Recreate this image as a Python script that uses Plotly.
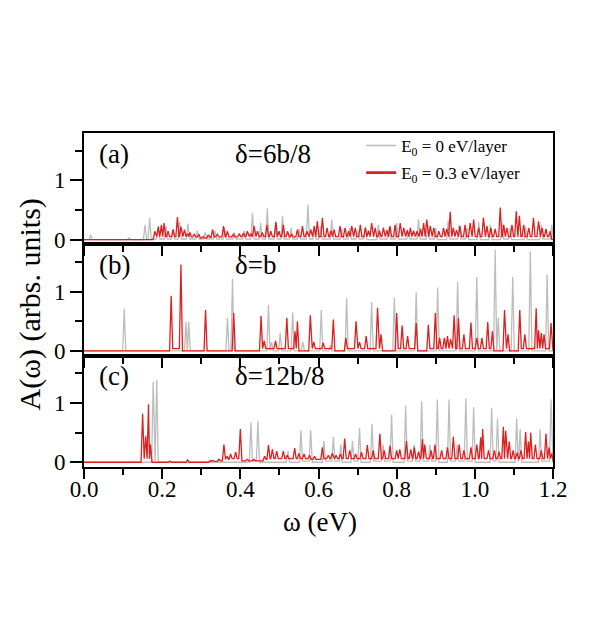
import plotly.graph_objects as go
from plotly.subplots import make_subplots

# ---------------- data (peak positions in eV, peak heights in arbs. units) ----------------
# Panel (a)  delta = 6b/8
a_gray_x = [0.017, 0.115, 0.156, 0.168, 0.19, 0.21, 0.228, 0.245, 0.266, 0.29, 0.31, 0.335, 0.36,
            0.385, 0.41, 0.431, 0.452, 0.469, 0.49, 0.508, 0.53, 0.55, 0.573, 0.59, 0.605, 0.634,
            0.66, 0.68, 0.70, 0.72, 0.753, 0.78, 0.80, 0.83, 0.856, 0.88, 0.90, 0.932, 0.96, 0.98,
            1.01, 1.04, 1.07, 1.09, 1.13, 1.17, 1.197]
a_gray_y = [0.08, 0.03, 0.25, 0.37, 0.20, 0.22, 0.18, 0.30, 0.27, 0.15, 0.12, 0.15, 0.20,
            0.12, 0.15, 0.45, 0.28, 0.53, 0.22, 0.40, 0.20, 0.18, 0.59, 0.20, 0.22, 0.34,
            0.18, 0.20, 0.15, 0.22, 0.25, 0.20, 0.28, 0.12, 0.34, 0.22, 0.20, 0.32, 0.25, 0.20,
            0.30, 0.25, 0.28, 0.20, 0.22, 0.25, 0.25]
a_red_x = [0.181, 0.19, 0.198, 0.205, 0.215, 0.228, 0.239, 0.248, 0.257, 0.265, 0.271, 0.282, 0.294,
           0.305, 0.318, 0.329, 0.341, 0.357, 0.367, 0.382, 0.397, 0.408, 0.418, 0.427, 0.435, 0.444,
           0.456, 0.468, 0.478, 0.491, 0.499, 0.51, 0.521, 0.531, 0.546, 0.559, 0.57, 0.58, 0.589,
           0.597, 0.61, 0.622, 0.632, 0.64, 0.655, 0.668, 0.677, 0.685, 0.694, 0.707, 0.72, 0.728,
           0.736, 0.745, 0.756, 0.766, 0.775, 0.783, 0.796, 0.809, 0.818, 0.827, 0.835, 0.843, 0.852,
           0.861, 0.869, 0.877, 0.886, 0.895, 0.908, 0.92, 0.928, 0.937, 0.945, 0.953, 0.962, 0.975,
           0.988, 0.997, 1.01, 1.022, 1.031, 1.041, 1.052, 1.065, 1.074, 1.082, 1.095, 1.106, 1.114,
           1.125, 1.138, 1.15, 1.163, 1.172, 1.182, 1.193]
a_red_y = [0.14, 0.22, 0.25, 0.28, 0.14, 0.17, 0.38, 0.22, 0.17, 0.10, 0.12, 0.09, 0.09,
           0.05, 0.08, 0.17, 0.09, 0.23, 0.14, 0.09, 0.10, 0.11, 0.14, 0.10, 0.23, 0.14,
           0.12, 0.25, 0.14, 0.30, 0.14, 0.25, 0.14, 0.09, 0.17, 0.23, 0.14, 0.17, 0.23,
           0.31, 0.37, 0.20, 0.15, 0.17, 0.23, 0.20, 0.14, 0.23, 0.20, 0.25, 0.20, 0.15,
           0.28, 0.20, 0.15, 0.20, 0.16, 0.23, 0.25, 0.28, 0.20, 0.16, 0.20, 0.15, 0.14,
           0.18, 0.28, 0.34, 0.23, 0.20, 0.14, 0.20, 0.18, 0.47, 0.20, 0.16, 0.23, 0.25,
           0.28, 0.34, 0.20, 0.37, 0.23, 0.20, 0.18, 0.54, 0.25, 0.20, 0.25, 0.48, 0.40,
           0.25, 0.20, 0.37, 0.31, 0.20, 0.18, 0.14]

# Panel (b)  delta = b
b_gray_x = [0.103, 0.261, 0.268, 0.367, 0.38, 0.472, 0.48, 0.502, 0.534, 0.56, 0.607, 0.63, 0.672,
            0.736, 0.794, 0.85, 0.905, 0.956, 1.005, 1.052, 1.06, 1.097, 1.142, 1.185]
b_gray_y = [0.71, 0.49, 0.49, 0.56, 1.22, 0.78, 0.15, 0.30, 0.65, 0.15, 0.69, 0.10, 0.89,
            0.82, 0.90, 0.99, 1.07, 1.17, 1.25, 1.71, 0.56, 1.25, 1.68, 1.29]
b_red_x = [0.223, 0.248, 0.311, 0.383, 0.453, 0.461, 0.49, 0.519, 0.54, 0.546, 0.579, 0.588, 0.612,
           0.638, 0.67, 0.696, 0.705, 0.722, 0.751, 0.76, 0.80, 0.814, 0.828, 0.85, 0.881, 0.899,
           0.91, 0.922, 0.93, 0.938, 0.947, 0.958, 0.972, 0.99, 1.005, 1.018, 1.033, 1.045, 1.076,
           1.085, 1.115, 1.128, 1.157, 1.163, 1.17, 1.177, 1.195]
b_red_y = [0.93, 1.46, 0.69, 0.64, 0.59, 0.17, 0.17, 0.56, 0.33, 0.50, 0.60, 0.15, 0.14,
           0.53, 0.22, 0.50, 0.15, 0.25, 0.73, 0.28, 0.64, 0.43, 0.25, 0.47, 0.44, 0.64,
           0.22, 0.22, 0.25, 0.20, 0.60, 0.55, 0.28, 0.48, 0.22, 0.22, 0.49, 0.33, 0.69,
           0.28, 0.69, 0.28, 0.72, 0.35, 0.30, 0.28, 0.47]

# Panel (c)  delta = 12b/8
c_gray_x = [0.177, 0.186, 0.427, 0.445, 0.522, 0.555, 0.58, 0.614, 0.638, 0.657, 0.687, 0.705, 0.737,
            0.765, 0.787, 0.823, 0.845, 0.864, 0.885, 0.904, 0.934, 0.955, 0.977, 0.997, 1.043,
            1.058, 1.107, 1.116, 1.167, 1.195]
c_gray_y = [1.36, 1.39, 0.67, 0.69, 0.19, 0.54, 0.54, 0.36, 0.43, 0.30, 0.36, 0.58, 0.65,
            0.30, 0.80, 0.96, 0.30, 1.03, 0.30, 1.06, 1.06, 0.30, 1.08, 0.93, 0.92,
            0.74, 0.74, 0.56, 0.56, 1.06]
c_red_x = [0.150, 0.158, 0.165, 0.17, 0.22, 0.265, 0.323, 0.33, 0.345, 0.358, 0.366, 0.375, 0.388,
           0.40, 0.418, 0.435, 0.462, 0.472, 0.482, 0.493, 0.51, 0.52, 0.539, 0.55, 0.563, 0.577,
           0.59, 0.61, 0.625, 0.635, 0.645, 0.656, 0.667, 0.68, 0.695, 0.71, 0.725, 0.74, 0.757,
           0.768, 0.783, 0.80, 0.808, 0.825, 0.836, 0.845, 0.856, 0.866, 0.872, 0.888, 0.898, 0.915,
           0.93, 0.945, 0.96, 0.972, 0.99, 1.005, 1.015, 1.02, 1.035, 1.05, 1.062, 1.073, 1.079,
           1.088, 1.098, 1.108, 1.118, 1.13, 1.137, 1.143, 1.155, 1.17, 1.182, 1.19, 1.197]
c_red_y = [0.82, 0.44, 0.98, 0.30, 0.02, 0.04, 0.03, 0.03, 0.05, 0.30, 0.10, 0.14, 0.17,
           0.56, 0.05, 0.05, 0.10, 0.29, 0.22, 0.19, 0.19, 0.12, 0.24, 0.15, 0.14, 0.12,
           0.10, 0.25, 0.12, 0.15, 0.12, 0.14, 0.40, 0.20, 0.14, 0.17, 0.29, 0.20, 0.48,
           0.20, 0.28, 0.20, 0.22, 0.36, 0.22, 0.25, 0.18, 0.39, 0.30, 0.20, 0.30, 0.20,
           0.25, 0.43, 0.30, 0.20, 0.25, 0.30, 0.42, 0.56, 0.20, 0.20, 0.18, 0.60, 0.53,
           0.35, 0.20, 0.16, 0.20, 0.51, 0.35, 0.50, 0.30, 0.20, 0.48, 0.25, 0.15]

# trough level between neighbouring (overlapping) peaks
floors = {"a_gray": 0.01, "a_red": 0.05, "b_gray": 0.0, "b_red": 0.04, "c_gray": 0.02, "c_red": 0.06}

X_MAX = 1.2
GRAY = "#bdbdbd"
RED = "#dc1f1f"
FONT = "Liberation Serif"


def spectrum(px, ph, floor, w=0.004, near=0.03):
    """Polyline through the read peaks: baseline -> peak -> trough -> peak ..."""
    xs, ys = [0.0], [0.0]
    prev, prev_h = None, None
    for x, h in zip(px, ph):
        if prev is None:
            xs.append(x - w); ys.append(0.0)
        elif x - prev < near:
            t = min(floor, 0.5 * min(prev_h, h))
            if x - prev > 2 * w:
                xs += [prev + w, x - w]; ys += [t, t]
            else:
                xs.append((prev + x) / 2); ys.append(t)
        else:
            xs += [prev + w, x - w]; ys += [0.0, 0.0]
        xs.append(x); ys.append(h)
        prev, prev_h = x, h
    xs += [prev + w, X_MAX]; ys += [0.0, 0.0]
    return xs, ys


fig = make_subplots(rows=3, cols=1, shared_xaxes=True, vertical_spacing=0)

panels = [
    (a_gray_x, a_gray_y, a_red_x, a_red_y, "a"),
    (b_gray_x, b_gray_y, b_red_x, b_red_y, "b"),
    (c_gray_x, c_gray_y, c_red_x, c_red_y, "c"),
]

for i, (gx, gy, rx, ry, key) in enumerate(panels, start=1):
    xs, ys = spectrum(gx, gy, floors[key + "_gray"])
    fig.add_trace(go.Scatter(x=xs, y=ys, mode="lines", line=dict(color=GRAY, width=1.3),
                             legendgroup="g", showlegend=False), row=i, col=1)
    xs, ys = spectrum(rx, ry, floors[key + "_red"])
    fig.add_trace(go.Scatter(x=xs, y=ys, mode="lines", line=dict(color=RED, width=1.3),
                             legendgroup="r", showlegend=False), row=i, col=1)

# legend entries (drawn only in the legend, with the thicker sample lines of the reference)
fig.add_trace(go.Scatter(x=[None], y=[None], mode="lines", line=dict(color=GRAY, width=1.6),
                         name="E<sub>0</sub> = 0 eV/layer", legendgroup="g"), row=1, col=1)
fig.add_trace(go.Scatter(x=[None], y=[None], mode="lines", line=dict(color=RED, width=2.6),
                         name="E<sub>0</sub> = 0.3 eV/layer", legendgroup="r"), row=1, col=1)

for i in range(1, 4):
    fig.update_xaxes(range=[0, X_MAX], showline=True, linewidth=2, linecolor="black", mirror=True,
                     ticks="outside", ticklen=10, tickwidth=2, tickcolor="black",
                     tick0=0, dtick=0.2, tickformat=".1f", ticklabelstandoff=-10,
                     minor=dict(ticks="outside", dtick=0.1, ticklen=6, tickwidth=2, tickcolor="black"),
                     showgrid=False, zeroline=False, showticklabels=(i == 3),
                     tickfont=dict(family=FONT, size=23, color="black"), row=i, col=1)
    fig.update_yaxes(range=[-0.08, 1.8], showline=True, linewidth=2, linecolor="black", mirror=True,
                     ticks="outside", ticklen=12, tickwidth=2, tickcolor="black",
                     tick0=0, dtick=1,
                     minor=dict(ticks="outside", dtick=0.5, ticklen=7, tickwidth=2, tickcolor="black"),
                     showgrid=False, zeroline=False,
                     tickfont=dict(family=FONT, size=23, color="black"), row=i, col=1)

labels = ["(a)", "(b)", "(c)"]
deltas = ["δ=6b/8", "δ=b", "δ=12b/8"]
annotations = []
for i in range(3):
    sfx = "" if i == 0 else str(i + 1)
    annotations.append(dict(x=0.077, y=1.45, xref="x" + sfx, yref="y" + sfx, text=labels[i],
                            showarrow=False, xanchor="center", yanchor="middle",
                            font=dict(family=FONT, size=27, color="black")))
    annotations.append(dict(x=0.381, y=1.45, xref="x" + sfx, yref="y" + sfx, text=deltas[i],
                            showarrow=False, xanchor="left", yanchor="middle",
                            font=dict(family=FONT, size=27, color="black")))
annotations.append(dict(x=-0.115, y=0.487, xref="paper", yref="paper", text="A(ω) (arbs. units)",
                        textangle=-90, showarrow=False, xanchor="center", yanchor="middle",
                        font=dict(family=FONT, size=30, color="black")))
annotations.append(dict(x=0.504, y=-0.165, xref="paper", yref="paper", text="ω (eV)",
                        showarrow=False, xanchor="center", yanchor="middle",
                        font=dict(family=FONT, size=27, color="black")))

fig.update_layout(
    width=591, height=643,
    margin=dict(l=76, r=46, t=125, b=184),
    paper_bgcolor="white", plot_bgcolor="white",
    annotations=annotations,
    legend=dict(x=0.591, y=1.015, xanchor="left", yanchor="top", traceorder="grouped",
                tracegroupgap=2, bgcolor="rgba(0,0,0,0)",
                font=dict(family=FONT, size=17, color="black")),
)

fig.write_html("out.html")
